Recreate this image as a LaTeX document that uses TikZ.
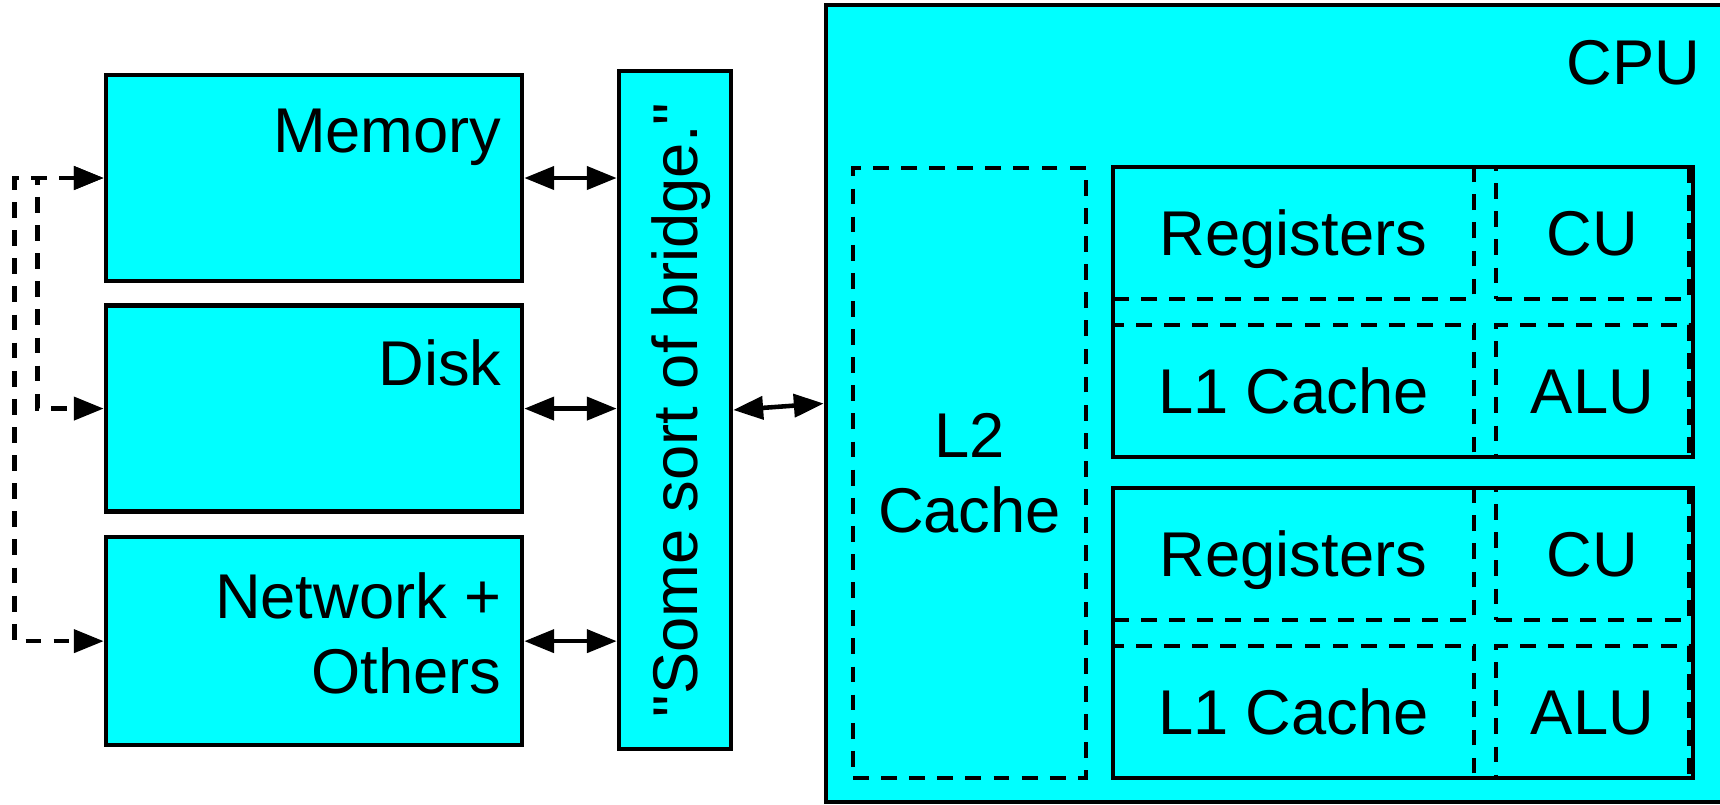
\documentclass[tikz,border=0pt]{standalone}
\usepackage{fontspec}
\setmainfont{Liberation Sans}
\usetikzlibrary{positioning,calc,arrows.meta}

\definecolor{boxcyan}{RGB}{0,255,255}
\tikzset{
  box/.style={draw, fill=boxcyan, line width=1.3pt, minimum width=4.16cm, minimum height=2.06cm},
  part/.style={draw, dash pattern=on 4.5pt off 3.5pt, line width=1.3pt, inner sep=0pt},
  cell/.style={part, minimum height=1.32cm, text height=12.9pt, text depth=0pt},
  txt/.style={inner sep=0pt, align=right, anchor=north east},
  link/.style={line width=1.3pt, <->, >={Triangle[length=8.5pt,width=6.5pt]}},
  dashlink/.style={link, dash pattern=on 4.5pt off 3.5pt},
}

\begin{document}
\begin{tikzpicture}[font=\fontsize{18}{21.5}\selectfont]
  \useasboundingbox (0,0) rectangle (17.2,8.04);
  \clip (0,0) rectangle (17.2,8.04);

  % devices on the left
  \node[box] (mem) at (3.14,6.26) {};
  \node[box, below=0.20cm of mem] (disk) {};
  \node[box, below=0.21cm of disk, minimum height=2.08cm] (net) {};
  \node[txt] (memtxt) at ($(mem.north east)+(-0.22,-0.36)$) {Memory};
  \node[txt] (disktxt) at ($(disk.north east)+(-0.22,-0.36)$) {Disk};
  \node[txt] (nettxt) at ($(net.north east)+(-0.22,-0.37)$) {Network +\\Others};

  % the bridge
  \node[box, minimum width=1.12cm, minimum height=6.78cm] (bridge) at (6.75,3.94) {};
  \node[rotate=90, inner sep=0pt, text height=12.9pt, text depth=0pt] (bridgetxt)
    at (bridge.center) {\textquotedbl Some sort of bridge.\textquotedbl};

  % the cpu
  \node[box, minimum width=8.99cm, minimum height=7.97cm] (cpu) at (12.755,4.005) {};
  \node[inner sep=0pt, anchor=base east] (cputxt) at (17.01,7.20) {CPU};
  \node[part, minimum width=2.33cm, minimum height=6.10cm, align=center] (ltwo)
    at (9.695,3.31) {L2\\Cache};
  \foreach \n/\y in {1/4.92,2/1.71}{
    \node[box, minimum width=5.80cm, minimum height=2.90cm] (core\n) at (14.03,\y) {};
    \node[cell, anchor=north west, minimum width=3.61cm] (reg\n) at (core\n.north west) {Registers};
    \node[cell, anchor=north east, minimum width=1.93cm] (cu\n) at ($(core\n.north east)+(-0.04,0)$) {CU};
    \node[cell, anchor=south west, minimum width=3.61cm] (lone\n) at (core\n.south west) {L1 Cache};
    \node[cell, anchor=south east, minimum width=1.93cm] (alu\n) at ($(core\n.south east)+(-0.04,0)$) {ALU};
  }

  % connections
  \draw[link] (mem.east) -- (mem.east -| bridge.west);
  \draw[link] (disk.east) -- (disk.east -| bridge.west);
  \draw[link] (net.east) -- (net.east -| bridge.west);
  \draw[link] (bridge.east) -- (cpu.west);
  \draw[dashlink] (mem.west) -- ++(-0.89,0) |- (net.west);
  \draw[dashlink] (mem.west) -- ++(-0.66,0) |- (disk.west);
\end{tikzpicture}
\end{document}
